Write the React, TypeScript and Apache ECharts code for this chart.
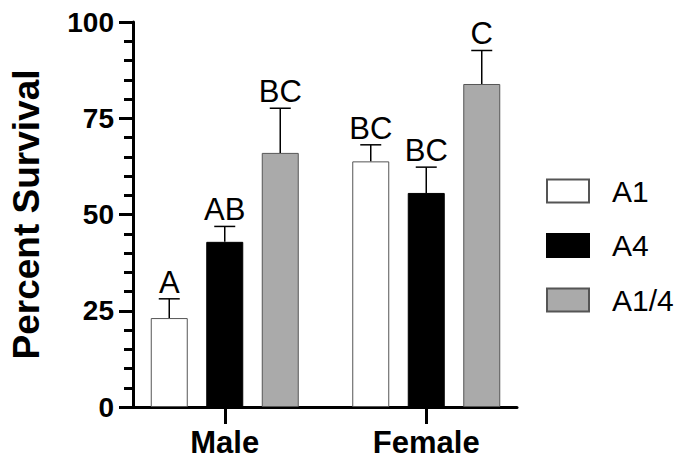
import React, { useEffect, useRef } from "react";
import * as echarts from "echarts";

const categories = ["Male", "Female"];
const seriesNames = ["A1", "A4", "A1/4"];
const meanA1 = [23.1, 63.8];
const meanA4 = [42.9, 55.6];
const meanA14 = [66.0, 83.9];
const errA1 = [5.0, 4.3];
const errA4 = [4.0, 6.7];
const errA14 = [11.6, 8.7];
const lettersA1 = ["A", "BC"];
const lettersA4 = ["AB", "BC"];
const lettersA14 = ["BC", "C"];
const yTicks = [0, 25, 50, 75, 100];

const FONT = "'Liberation Sans', Arial, Helvetica, sans-serif";
const BAR_W = 37;
const BAR_STEP = 55.5;

export default function App() {
  const ref = useRef<HTMLDivElement>(null);
  useEffect(() => {
    document.body.style.margin = "0";
    if (!ref.current) return;
    const chart = echarts.init(ref.current, undefined, { renderer: "svg" });
    const means = [meanA1, meanA4, meanA14];
    const errs = [errA1, errA4, errA14];
    const letters = [lettersA1, lettersA4, lettersA14];
    const fills = ["#ffffff", "#000000", "#aaaaaa"];
    const borders = ["#555555", "#000000", "#555555"];

    const barSeries = seriesNames.map((name, i) => ({
      name,
      type: "bar",
      xAxisIndex: 0,
      yAxisIndex: 0,
      data: means[i],
      barWidth: BAR_W,
      barGap: "50%",
      itemStyle: { color: fills[i], borderColor: borders[i], borderWidth: 1 },
      z: 2,
    }));

    const errSeries = seriesNames.map((name, i) => ({
      name: name + "-err",
      type: "custom",
      xAxisIndex: 0,
      yAxisIndex: 0,
      z: 3,
      data: categories.map((_, c) => [c, means[i][c], errs[i][c]]),
      renderItem: (params: any, api: any) => {
        const c = api.value(0);
        const m = api.value(1);
        const e = api.value(2);
        const x = api.coord([c, 0])[0] + (i - 1) * BAR_STEP;
        const yb = api.coord([c, m])[1];
        const yt = api.coord([c, m + e])[1];
        const st = { stroke: "#000", lineWidth: 1.5 };
        return {
          type: "group",
          children: [
            { type: "line", shape: { x1: x, y1: yb, x2: x, y2: yt }, style: st },
            { type: "line", shape: { x1: x - 10.5, y1: yt, x2: x + 10.5, y2: yt }, style: st },
            {
              type: "text",
              x: x,
              y: yt - 1,
              style: {
                text: letters[i][params.dataIndex],
                fill: "#000",
                fontSize: 31,
                fontFamily: FONT,
                align: "center",
                verticalAlign: "bottom",
              },
            },
          ],
        };
      },
    }));

    chart.setOption({
      animation: false,
      backgroundColor: "#ffffff",
      grid: [
        { left: 124, top: 22, width: 403, height: 385 },
        { left: 133, top: 22, width: 384, height: 385 },
      ],
      legend: {
        data: seriesNames,
        orient: "vertical",
        left: 546,
        top: 176,
        padding: 0,
        itemWidth: 42,
        itemHeight: 23,
        itemGap: 24.5,
        icon: "rect",
        selectedMode: false,
        textStyle: { fontSize: 30, color: "#000", fontFamily: FONT, padding: [0, 0, 0, 18] },
      },
      xAxis: [
        {
          type: "category",
          gridIndex: 0,
          data: categories,
          axisLine: { show: false },
          axisTick: { show: true, alignWithLabel: true, length: 17, lineStyle: { width: 3, color: "#000" } },
          axisLabel: { fontSize: 31, fontWeight: "bold", color: "#000", fontFamily: FONT, margin: 20 },
          splitLine: { show: false },
        },
        {
          type: "value",
          gridIndex: 1,
          min: 0,
          max: 1,
          axisLine: { show: true, lineStyle: { width: 3, color: "#000" } },
          axisTick: { show: false },
          axisLabel: { show: false },
          splitLine: { show: false },
        },
      ],
      yAxis: [
        {
          type: "value",
          gridIndex: 0,
          min: 0,
          max: 100,
          show: false,
          splitLine: { show: false },
        },
        {
          type: "value",
          gridIndex: 1,
          min: yTicks[0],
          max: yTicks[yTicks.length - 1],
          interval: 25,
          name: "Percent Survival",
          nameLocation: "middle",
          nameGap: 88,
          nameRotate: 90,
          nameTextStyle: { fontSize: 37, fontWeight: "bold", color: "#000", fontFamily: FONT },
          axisLine: { show: true, lineStyle: { width: 3, color: "#000" } },
          axisTick: { show: true, length: 14, lineStyle: { width: 3, color: "#000" } },
          minorTick: { show: true, splitNumber: 5, length: 9, lineStyle: { width: 3, color: "#000" } },
          axisLabel: { fontSize: 28, fontWeight: "bold", color: "#000", fontFamily: FONT, margin: 19 },
          splitLine: { show: false },
        },
      ],
      series: [...barSeries, ...errSeries],
    });
    return () => chart.dispose();
  }, []);
  return <div ref={ref} style={{ width: 689, height: 459 }} />;
}
